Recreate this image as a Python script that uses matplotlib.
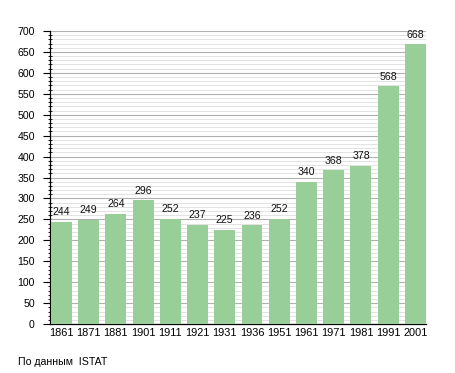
import numpy as np
import matplotlib.pyplot as plt
from matplotlib.ticker import MultipleLocator

plt.rcParams['font.family'] = ['Liberation Sans', 'DejaVu Sans']

years = ["1861", "1871", "1881", "1901", "1911", "1921", "1931",
         "1936", "1951", "1961", "1971", "1981", "1991", "2001"]
population = [244, 249, 264, 296, 252, 237, 225, 236, 252, 340, 368, 378, 568, 668]
source_note = "По данным  ISTAT"

bar_color = "#98cf98"
bar_w = 0.77

fig = plt.figure(figsize=(4.55, 3.73), dpi=100)
ax = fig.add_axes([0.110, 0.131, 0.826, 0.786])

x = np.arange(len(years))
ax.bar(x, population, width=bar_w, color=bar_color, zorder=3)

# value labels above bars
for xi, v in zip(x, population):
    ax.annotate(str(v), (xi, v), xytext=(0, 3.2), textcoords="offset points",
                ha="center", va="bottom", fontsize=7.6, color="#111111", zorder=4)

# axes formatting
ax.set_xlim(-bar_w / 2 - 0.03, len(years) - 1 + bar_w / 2)
ax.set_ylim(0, 700)
ax.yaxis.set_major_locator(MultipleLocator(50))
ax.yaxis.set_minor_locator(MultipleLocator(10))
ax.grid(which="major", axis="y", color="#b0b0b0", lw=0.8, zorder=0)
ax.grid(which="minor", axis="y", color="#dedede", lw=0.6, zorder=0)

ax.set_xticks(x)
ax.set_xticklabels(years)
ax.tick_params(axis="x", length=0, labelsize=7.9, pad=3)
ax.tick_params(axis="y", which="major", length=5, width=0.8, direction="out", labelsize=7.6, pad=6)
ax.tick_params(axis="y", which="minor", length=3, width=0.6, direction="inout")

for s in ["top", "right"]:
    ax.spines[s].set_visible(False)
ax.spines["left"].set_linewidth(0.9)
ax.spines["bottom"].set_linewidth(0.9)

fig.text(18 / 455, 1 - 362 / 373, source_note, fontsize=7.6, ha="left", va="center")

fig.savefig("out.png", dpi=100)
